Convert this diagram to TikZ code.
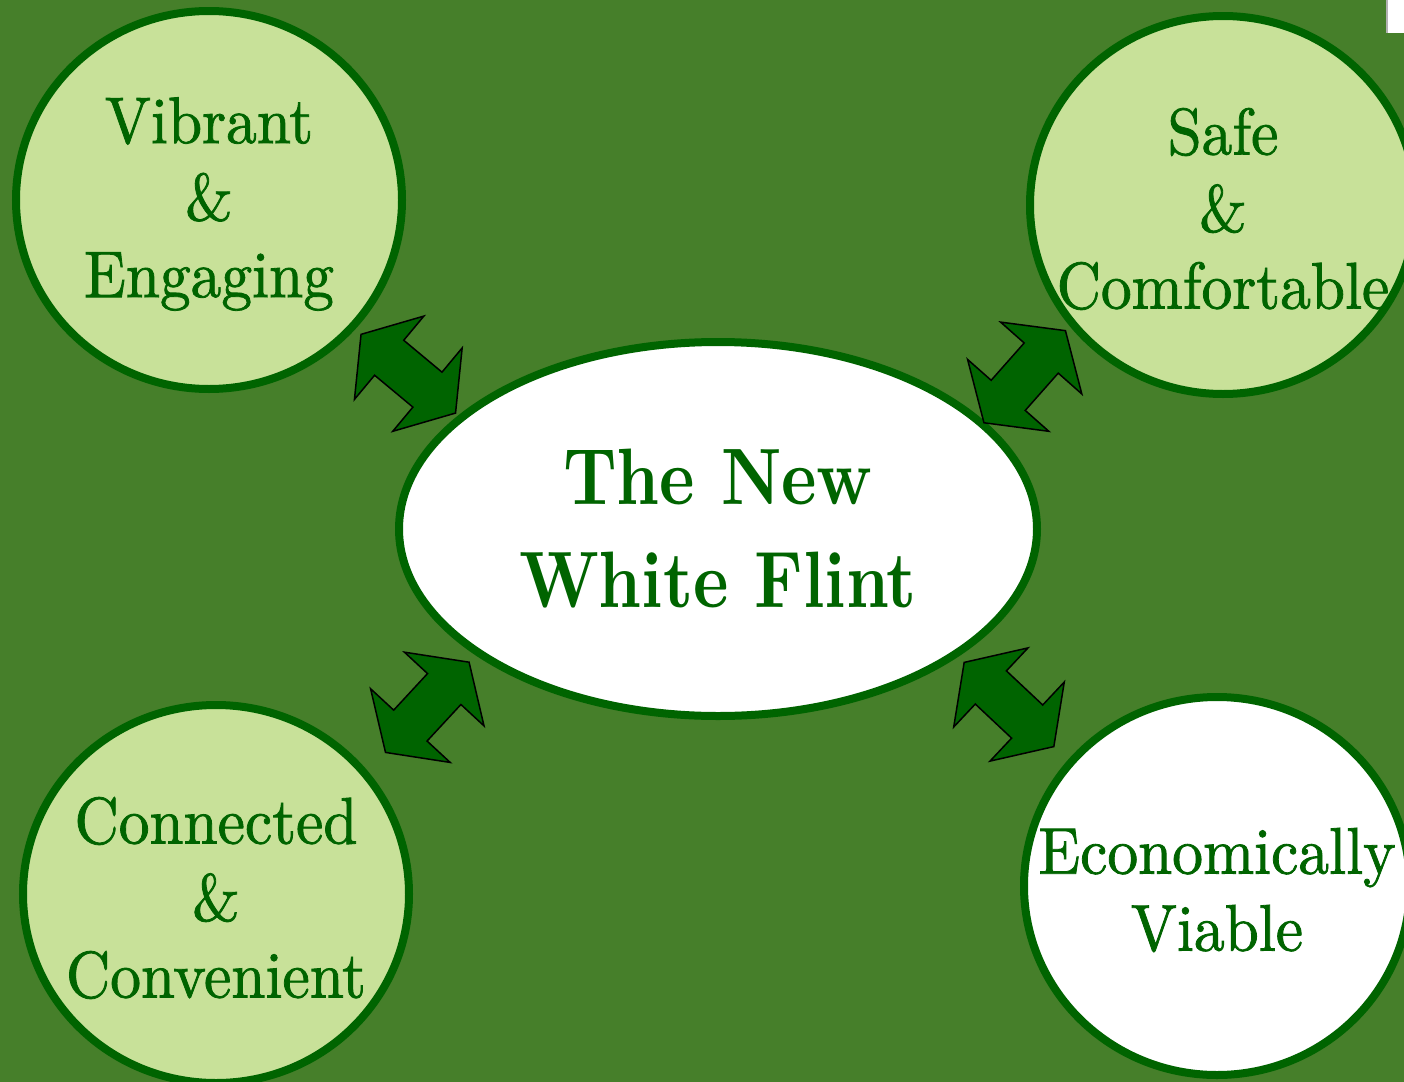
\documentclass[tikz,border=0pt]{standalone}
\usepackage{fontspec}
\usetikzlibrary{shapes.geometric,shapes.arrows}
\newfontfamily\ringfont{lmroman10-regular.otf}[FakeStretch=0.93, FakeBold=1.2]
\newfontfamily\flintfont{lmroman10-bold.otf}[FakeStretch=0.84]
\definecolor{lawn}{RGB}{70,127,42}
\definecolor{leaf}{RGB}{200,225,153}
\definecolor{pine}{RGB}{0,100,0}

\begin{document}
\begin{tikzpicture}[x=0.5pt, y=-0.5pt,
    ring/.style={ellipse, draw=pine, line width=4pt, fill=leaf,
        minimum width=193pt, minimum height=189pt, inner sep=0pt},
    ringtext/.style={align=center, text=pine, inner sep=0pt, yshift=-2pt,
        font=\ringfont\fontsize{33}{38.5}\selectfont},
    hub/.style={ellipse, draw=pine, line width=4pt, fill=white,
        minimum width=319pt, minimum height=187pt, align=center, text=pine,
        font=\flintfont\fontsize{40}{51.5}\selectfont},
    link/.style={double arrow, draw=black, line width=0.75pt, fill=pine,
        double arrow head extend=15.75pt, double arrow tip angle=112,
        inner xsep=0pt, inner ysep=11pt, minimum height=61.5pt, minimum width=0pt}
]
    \useasboundingbox (0,0) rectangle (1404,1082);
    \fill[lawn] (0,0) rectangle (1404,1082);
    \fill[white] (1387,0) rectangle (1404,33);
    \draw[gray!60, line width=1pt] (1387,0) -- (1387,33);

    \node[ring, label={[ringtext]center:{Vibrant\\\&\\Engaging}}] (vib) at (209,200) {};
    \node[ring, label={[ringtext]center:{Safe\\\&\\Comfortable}}] (safe) at (1223,205) {};
    \node[ring, label={[ringtext]center:{Connected\\\&\\Convenient}}] (conn) at (216,894) {};
    \node[ring, fill=white, label={[ringtext]center:{Economically\\Viable}}] (econ) at (1217,886) {};
    \node[hub] (flint) at (718,529) {The New\\White Flint};

    \node[link, rotate=-39.8] (vf) at (408.3,373.7) {};
    \node[link, rotate=48.5] (sf) at (1024.7,376.7) {};
    \node[link, rotate=47.2] (cf) at (427.3,707.3) {};
    \node[link, rotate=-43.2] (ef) at (1009,704.5) {};
\end{tikzpicture}
\end{document}
